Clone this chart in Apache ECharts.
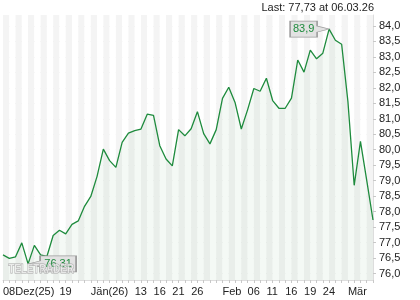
<!DOCTYPE html>
<html><head><meta charset="utf-8">
<script src="https://cdn.jsdelivr.net/npm/echarts@6/dist/echarts.min.js"></script>
<style>html,body{margin:0;padding:0;background:#fff}#c{width:420px;height:300px}</style>
</head><body><div id="c"></div>
<script>
// trading days 08.12.25 – 06.03.26
const dates = [
 '08.12.25','09.12.25','10.12.25','11.12.25','12.12.25','15.12.25','16.12.25','17.12.25','18.12.25','19.12.25',
 '22.12.25','23.12.25','29.12.25','30.12.25','02.01.26','05.01.26','06.01.26','07.01.26','08.01.26','09.01.26',
 '12.01.26','13.01.26','14.01.26','15.01.26','16.01.26','19.01.26','20.01.26','21.01.26','22.01.26','23.01.26',
 '26.01.26','27.01.26','28.01.26','29.01.26','30.01.26','02.02.26','03.02.26','04.02.26','05.02.26','06.02.26',
 '09.02.26','10.02.26','11.02.26','12.02.26','13.02.26','16.02.26','17.02.26','18.02.26','19.02.26','20.02.26',
 '23.02.26','24.02.26','25.02.26','26.02.26','27.02.26','02.03.26','03.03.26','04.03.26','05.03.26','06.03.26'
];
const prices = [
 76.60,76.49,76.54,76.99,76.31,76.91,76.60,76.55,77.23,77.40,
 77.28,77.59,77.70,78.17,78.49,79.14,80.02,79.65,79.43,80.24,
 80.54,80.62,80.67,81.15,81.11,80.13,79.70,79.48,80.65,80.45,
 80.68,81.23,80.52,80.19,80.65,81.66,82.02,81.53,80.67,81.29,
 81.98,81.89,82.31,81.59,81.34,81.34,81.67,82.90,82.51,83.22,
 82.94,83.12,83.90,83.54,83.41,81.56,78.85,80.27,79.01,77.73
];
const xLabelDates = ['08.12.25','19.12.25','02.01.26','13.01.26','16.01.26','21.01.26','26.01.26','02.02.26','06.02.26','11.02.26','16.02.26','19.02.26','24.02.26','02.03.26'];
const xLabelTexts = ['08Dez(25)','19','Jän(26)','13','16','21','26','Feb','06','11','16','19','24','Mär'];
const yTicks = [76,76.5,77,77.5,78,78.5,79,79.5,80,80.5,81,81.5,82,82.5,83,83.5,84];

const labelMap = {};
xLabelDates.forEach((d,i)=>labelMap[d]=xLabelTexts[i]);
const comma = v => String(v).replace('.', ',');
const FONT = 'Liberation Sans, Arial, sans-serif';
const lastIdx = prices.length-1;

const chart = echarts.init(document.getElementById('c'), null, {renderer:'canvas'});
chart.setOption({
  animation:false,
  backgroundColor:'#ffffff',
  title:{
    text:'Last: ' + prices[lastIdx].toFixed(2).replace('.', ',') + ' at ' + dates[lastIdx],
    right:46, top:2, padding:0,
    textStyle:{fontSize:11, fontWeight:'normal', color:'#222', fontFamily:FONT}
  },
  grid:{left:3, right:47, top:15, bottom:20, containLabel:false},
  xAxis:{
    type:'category', data:dates, boundaryGap:false,
    axisLine:{show:true, lineStyle:{color:'#dddddd'}},
    axisTick:{show:true, interval:0, length:3, lineStyle:{color:'#c8c8c8'}},
    axisLabel:{interval:0, align:'left', margin:6, fontSize:11, color:'#222', fontFamily:FONT,
      formatter:(v)=>labelMap[v] || ''},
    splitLine:{show:false},
    splitArea:{show:true, interval:0, areaStyle:{color:['#f4f4f4','#ffffff']}}
  },
  yAxis:{
    type:'value', position:'right', min:75.79, max:84.355, scale:true,
    axisLine:{show:true, lineStyle:{color:'#dddddd'}},
    axisTick:{show:true, customValues:yTicks, length:3, lineStyle:{color:'#c8c8c8'}},
    axisLabel:{customValues:yTicks, margin:6, fontSize:11, color:'#222', fontFamily:FONT,
      formatter:(v)=>v.toFixed(1).replace('.', ',')},
    splitLine:{show:true, lineStyle:{color:'#e3e3e3', width:1}}
  },
  graphic:[{
    type:'text', left:8, top:262, z:100, silent:true, scaleX:0.75,
    style:{text:'TELETRADER', font:'bold 13px ' + FONT, fill:'rgba(255,255,255,0.6)', stroke:'#a8a8a8', lineWidth:1}
  }],
  series:[{
    type:'line', data:prices, symbol:'none', smooth:false,
    lineStyle:{color:'#1e8b3d', width:1.3},
    areaStyle:{color:'rgba(40,140,60,0.07)', origin:'start'},
    markPoint:{
      silent:true,
      data:[
        {type:'max', symbol:'path://M0,0L27,0L27,5L39,8L27,11L27,16L0,16Z', symbolSize:[39,16], symbolOffset:['-50%',0],
          label:{offset:[-6,0]}},
        {type:'min', symbol:'path://M12,0L48,0L48,16L12,16L12,11L0,8L12,5Z', symbolSize:[48,16], symbolOffset:['50%',0],
          label:{offset:[6,0]}}
      ],
      itemStyle:{color:'#e2e2e2', borderColor:'#9a9a9a', borderWidth:1},
      label:{show:true, position:'inside', color:'#1e8b3d', fontSize:11, fontFamily:FONT,
        formatter:(p)=>comma(p.value)}
    }
  }]
});
</script></body></html>
